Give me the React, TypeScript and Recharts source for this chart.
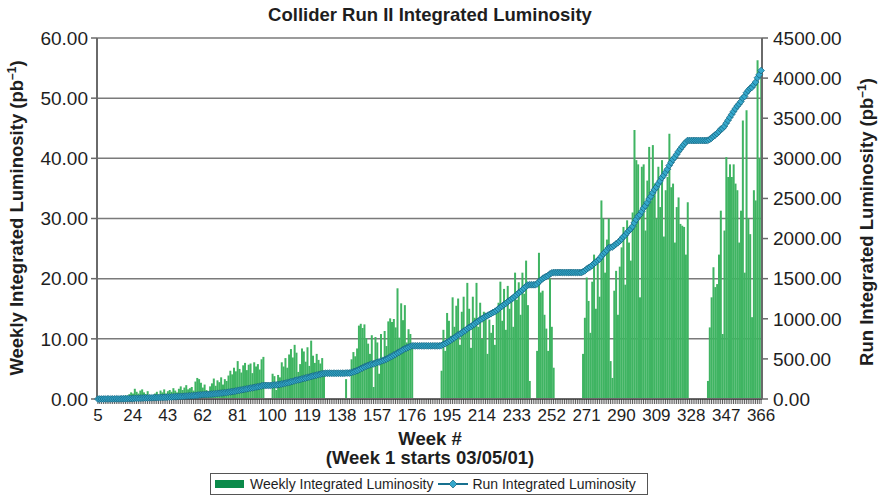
import React from "react";
import { ComposedChart, Bar, Line, XAxis, YAxis, CartesianGrid, Label } from "recharts";

const FIRST_WEEK = 5;
const LABEL_EVERY = 19;

// Weekly integrated luminosity (pb^-1), weeks 5..366
const weeklyLuminosity = [
  0.1, 0, 0.2, 0.1, 0.3, 0.2, 0.1, 0.3, 0.2, 0.4,
  0.3, 0.2, 0.5, 0.4, 0.3, 0.6, 0.5, 0.8, 1.1, 0.9,
  1.7, 1.2, 0.9, 1.4, 1.6, 1.1, 0.8, 1.3, 0.6, 0.4,
  0.5, 0.9, 1.2, 0.7, 1.4, 1.1, 1.6, 0.9, 1.3, 1.5,
  1.2, 1.8, 1.4, 1.1, 1.7, 2.1, 1.5, 1.9, 2.3, 1.6,
  1.8, 2.0, 1.4, 2.9, 3.5, 3.3, 2.7, 1.9, 2.4, 1.5,
  1.2, 2.1, 2.6, 3.4, 2.2, 3.1, 2.8, 3.6, 2.4, 3.3,
  3.0, 3.9, 4.7, 4.1, 5.2, 4.6, 6.3, 5.0, 4.4, 5.6,
  6.0, 4.8, 5.7, 5.9, 4.3, 6.1, 5.4, 5.8, 4.9, 6.6,
  7.0, 0, 0, 0, 0, 4.2, 3.8, 1.5, 4.0, 3.6,
  6.1, 5.4, 6.8, 5.2, 7.4, 8.3, 6.9, 9.0, 7.7, 4.5,
  5.8, 8.4, 7.9, 6.2, 8.6, 5.5, 9.7, 7.2, 6.0, 7.5,
  6.5, 5.9, 6.8, 4.3, 0, 0, 0, 0, 0, 0,
  0, 0, 0, 0, 0, 3.3, 0, 0, 6.6, 7.8,
  7.1, 8.4, 12.2, 12.5, 11.8, 12.4, 10.1, 9.2, 7.5, 10.6,
  2.0, 10.3, 9.4, 4.2, 10.8, 6.7, 11.3, 8.8, 12.9, 13.4,
  12.8, 13.3, 11.9, 18.4, 10.2, 15.9, 13.1, 15.6, 9.4, 11.6,
  10.8, 8.9, 0, 0, 0, 0, 0, 0, 0, 0,
  0, 0, 0, 0, 0, 0, 0, 4.7, 11.5, 8.0,
  14.3, 13.0, 10.5, 16.9, 12.0, 15.5, 16.7, 9.0, 14.5, 17.0,
  11.0, 19.3, 15.0, 8.5, 17.0, 13.5, 19.3, 12.0, 16.0, 10.0,
  14.5, 14.3, 7.5, 13.2, 11.0, 12.3, 9.0, 14.7, 16.0, 19.5,
  13.0, 18.3, 11.5, 18.8, 15.0, 17.0, 12.0, 21.0, 16.5, 19.4,
  14.0, 21.0, 17.5, 23.0, 15.6, 3.0, 0, 0, 0, 8.0,
  24.3, 17.7, 18.0, 14.0, 11.7, 8.0, 20.0, 12.0, 5.2, 0,
  0, 0, 0, 0, 0, 0, 0, 0, 0, 0,
  0, 0, 0, 0, 7.5, 13.5, 20.2, 16.3, 11.0, 19.5,
  24.0, 15.0, 22.5, 17.0, 33.0, 30.0, 21.0, 26.5, 30.0, 6.3,
  3.5, 18.0, 21.3, 14.0, 22.0, 25.2, 28.6, 19.0, 29.7, 26.0,
  23.0, 31.0, 44.7, 39.7, 39.0, 16.9, 38.6, 39.0, 28.0, 36.3,
  41.9, 33.0, 42.2, 35.8, 30.0, 38.6, 31.9, 39.7, 27.0, 34.7,
  36.9, 44.1, 35.2, 35.8, 26.0, 31.9, 33.5, 29.1, 28.8, 28.6,
  24.0, 32.7, 0, 0, 0, 0, 0, 0, 0, 0,
  0, 0, 3.0, 11.9, 16.9, 21.9, 18.6, 19.1, 24.0, 31.3,
  10.8, 28.0, 40.2, 36.9, 39.0, 36.9, 39.0, 35.8, 34.7, 26.0,
  31.3, 46.3, 21.0, 48.0, 30.0, 27.4, 13.6, 34.7, 33.0, 56.3,
  40.0, 53.5,
];

// Run integrated luminosity (pb^-1), weeks 5..366
const runLuminosity = [
  0, 0, 0, 0, 1, 1, 1, 1, 1, 2,
  2, 2, 2, 3, 3, 3, 4, 5, 5, 6,
  8, 9, 9, 10, 12, 13, 13, 14, 15, 15,
  16, 16, 17, 18, 19, 20, 21, 22, 23, 24,
  25, 27, 28, 29, 30, 32, 33, 35, 37, 38,
  39, 41, 42, 45, 47, 50, 52, 54, 56, 57,
  58, 60, 62, 65, 66, 69, 71, 74, 76, 79,
  81, 85, 88, 92, 96, 100, 105, 109, 113, 117,
  122, 126, 131, 136, 139, 144, 149, 153, 157, 163,
  169, 169, 169, 169, 169, 172, 175, 176, 179, 182,
  187, 192, 197, 202, 208, 215, 220, 228, 234, 238,
  243, 250, 256, 261, 269, 273, 281, 287, 292, 298,
  304, 309, 315, 319, 321, 321, 321, 321, 321, 321,
  321, 321, 321, 321, 321, 324, 324, 324, 330, 338,
  345, 353, 364, 377, 387, 400, 409, 418, 425, 436,
  438, 447, 457, 461, 471, 478, 488, 497, 509, 522,
  533, 546, 557, 574, 584, 599, 612, 626, 635, 646,
  655, 663, 663, 663, 663, 663, 663, 663, 663, 663,
  663, 663, 663, 663, 663, 663, 663, 668, 681, 690,
  705, 719, 731, 749, 762, 779, 798, 808, 824, 842,
  854, 875, 892, 901, 920, 935, 956, 969, 987, 998,
  1014, 1030, 1038, 1052, 1064, 1078, 1088, 1104, 1122, 1143,
  1157, 1177, 1190, 1211, 1227, 1246, 1259, 1282, 1300, 1321,
  1337, 1360, 1379, 1404, 1421, 1424, 1424, 1424, 1424, 1433,
  1460, 1479, 1499, 1514, 1527, 1536, 1558, 1571, 1577, 1577,
  1577, 1577, 1577, 1577, 1577, 1577, 1577, 1577, 1577, 1577,
  1577, 1577, 1577, 1577, 1585, 1598, 1618, 1635, 1646, 1665,
  1689, 1704, 1727, 1744, 1777, 1807, 1828, 1854, 1884, 1891,
  1894, 1912, 1933, 1947, 1969, 1994, 2023, 2042, 2071, 2097,
  2120, 2151, 2196, 2238, 2279, 2297, 2338, 2379, 2409, 2448,
  2492, 2527, 2572, 2610, 2642, 2683, 2717, 2759, 2788, 2825,
  2864, 2911, 2948, 2986, 3014, 3048, 3084, 3115, 3145, 3175,
  3200, 3222, 3222, 3222, 3222, 3222, 3222, 3222, 3222, 3222,
  3222, 3222, 3225, 3236, 3252, 3273, 3291, 3309, 3332, 3362,
  3373, 3400, 3438, 3474, 3511, 3547, 3584, 3619, 3652, 3677,
  3707, 3751, 3771, 3817, 3846, 3872, 3885, 3918, 3950, 4004,
  4042, 4094,
];

const weeks = weeklyLuminosity.map((_, i) => FIRST_WEEK + i);
const leftTicks = [0, 10, 20, 30, 40, 50, 60];
const rightTicks = [0, 500, 1000, 1500, 2000, 2500, 3000, 3500, 4000, 4500];

const data = weeks.map((w, i) => ({
  week: w,
  weekly: weeklyLuminosity[i],
  run: runLuminosity[i],
}));

const FONT = "'Liberation Sans', Arial, Helvetica, sans-serif";
const TEXT = "#1e1e1e";
const AXIS = "#6a6a6a";
const BAR_FILL = "#3fb462";
const LINE_STROKE = "#17708f";
const DOT_FILL = "#35a8cc";
const DOT_STROKE = "#12607a";

const renderDiamond = (props: any) => {
  const { cx, cy, index } = props;
  if (cx == null || cy == null) return <g key={`e${index}`} />;
  const s = 3.4;
  return (
    <path
      key={`d${index}`}
      d={`M${cx},${cy - s}L${cx + s},${cy}L${cx},${cy + s}L${cx - s},${cy}Z`}
      fill={DOT_FILL}
      stroke={DOT_STROKE}
      strokeWidth={0.7}
    />
  );
};

const renderXTick = (props: any) => {
  const { x, y, payload, index } = props;
  const idx = index != null ? index : payload?.index;
  if (idx % LABEL_EVERY !== 0) return <g />;
  return (
    <text x={x} y={y + 15} textAnchor="middle" fontSize={17} fontFamily={FONT} fill={TEXT}>
      {payload.value}
    </text>
  );
};

const renderTitles = () => (
  <g>
    <text x={430} y={21} textAnchor="middle" fontSize={18.5} fontWeight="bold" fontFamily={FONT} fill={TEXT}>
      Collider Run II Integrated Luminosity
    </text>
    <text x={430} y={445} textAnchor="middle" fontSize={18.5} fontWeight="bold" fontFamily={FONT} fill={TEXT}>
      Week #
    </text>
    <text x={430} y={464} textAnchor="middle" fontSize={18.5} fontWeight="bold" fontFamily={FONT} fill={TEXT}>
      (Week 1 starts 03/05/01)
    </text>
  </g>
);

const renderLeftTitle = () => (
  <text
    x={23}
    y={218}
    transform="rotate(-90 23 218)"
    textAnchor="middle"
    fontSize={18.5}
    fontWeight="bold"
    fontFamily={FONT}
    fill={TEXT}
  >
    Weekly Integrated Luminosity (pb
    <tspan baselineShift="super" fontSize={12}>–1</tspan>)
  </text>
);

const renderRightTitle = () => (
  <text
    x={873}
    y={222}
    transform="rotate(-90 873 222)"
    textAnchor="middle"
    fontSize={18.5}
    fontWeight="bold"
    fontFamily={FONT}
    fill={TEXT}
  >
    Run Integrated Luminosity (pb
    <tspan baselineShift="super" fontSize={12}>–1</tspan>)
  </text>
);

export default function App() {
  return (
    <div style={{ position: "relative", width: 879, height: 499, background: "#fff" }}>
      <style>{`body{margin:0;background:#fff}`}</style>
      <ComposedChart
        width={879}
        height={499}
        data={data}
        margin={{ top: 38, right: 0, bottom: 0, left: 0 }}
        barCategoryGap="4%"
      >
        <CartesianGrid
          yAxisId="left"
          vertical={false}
          stroke="#7a7a7a"
          strokeWidth={1.5}
        />
        <XAxis
          dataKey="week"
          interval={0}
          height={100}
          tick={renderXTick}
          tickSize={5}
          tickLine={{ stroke: "#333", strokeWidth: 0.8 }}
          axisLine={{ stroke: AXIS, strokeWidth: 2 }}
        >
          <Label content={renderTitles} />
        </XAxis>
        <YAxis
          yAxisId="left"
          width={97}
          domain={[0, 60]}
          ticks={leftTicks}
          interval={0}
          tickFormatter={(v: number) => v.toFixed(2)}
          tick={{ fontSize: 19, fill: TEXT, fontFamily: FONT }}
          tickSize={6}
          tickMargin={3}
          tickLine={{ stroke: AXIS, strokeWidth: 1.5 }}
          axisLine={{ stroke: AXIS, strokeWidth: 2 }}
        >
          <Label content={renderLeftTitle} />
        </YAxis>
        <YAxis
          yAxisId="right"
          orientation="right"
          width={117}
          domain={[0, 4500]}
          ticks={rightTicks}
          interval={0}
          tickFormatter={(v: number) => v.toFixed(2)}
          tick={{ fontSize: 19, fill: TEXT, fontFamily: FONT }}
          tickSize={6}
          tickMargin={5}
          tickLine={{ stroke: AXIS, strokeWidth: 1.5 }}
          axisLine={{ stroke: AXIS, strokeWidth: 2 }}
        >
          <Label content={renderRightTitle} />
        </YAxis>
        <Bar
          yAxisId="left"
          dataKey="weekly"
          fill={BAR_FILL}
          isAnimationActive={false}
        />
        <Line
          yAxisId="right"
          dataKey="run"
          type="linear"
          stroke={LINE_STROKE}
          strokeWidth={3}
          dot={renderDiamond}
          activeDot={false}
          isAnimationActive={false}
        />
      </ComposedChart>
      <div
        style={{
          position: "absolute",
          left: 210,
          top: 473,
          width: 438,
          height: 22,
          boxSizing: "border-box",
          border: "1px solid #555",
          display: "flex",
          alignItems: "center",
          fontFamily: FONT,
          fontSize: 14,
          color: TEXT,
          whiteSpace: "nowrap",
        }}
      >
        <span
          style={{
            display: "inline-block",
            width: 29,
            height: 8,
            background: "#0b8a4a",
            marginLeft: 4,
            marginRight: 6,
          }}
        />
        <span>Weekly Integrated Luminosity</span>
        <svg width={30} height={10} style={{ marginLeft: 5, marginRight: 4 }}>
          <line x1={0} y1={5} x2={30} y2={5} stroke={LINE_STROKE} strokeWidth={2} />
          <path d="M15,1L19,5L15,9L11,5Z" fill={DOT_FILL} stroke={DOT_STROKE} strokeWidth={0.7} />
        </svg>
        <span>Run Integrated Luminosity</span>
      </div>
    </div>
  );
}
